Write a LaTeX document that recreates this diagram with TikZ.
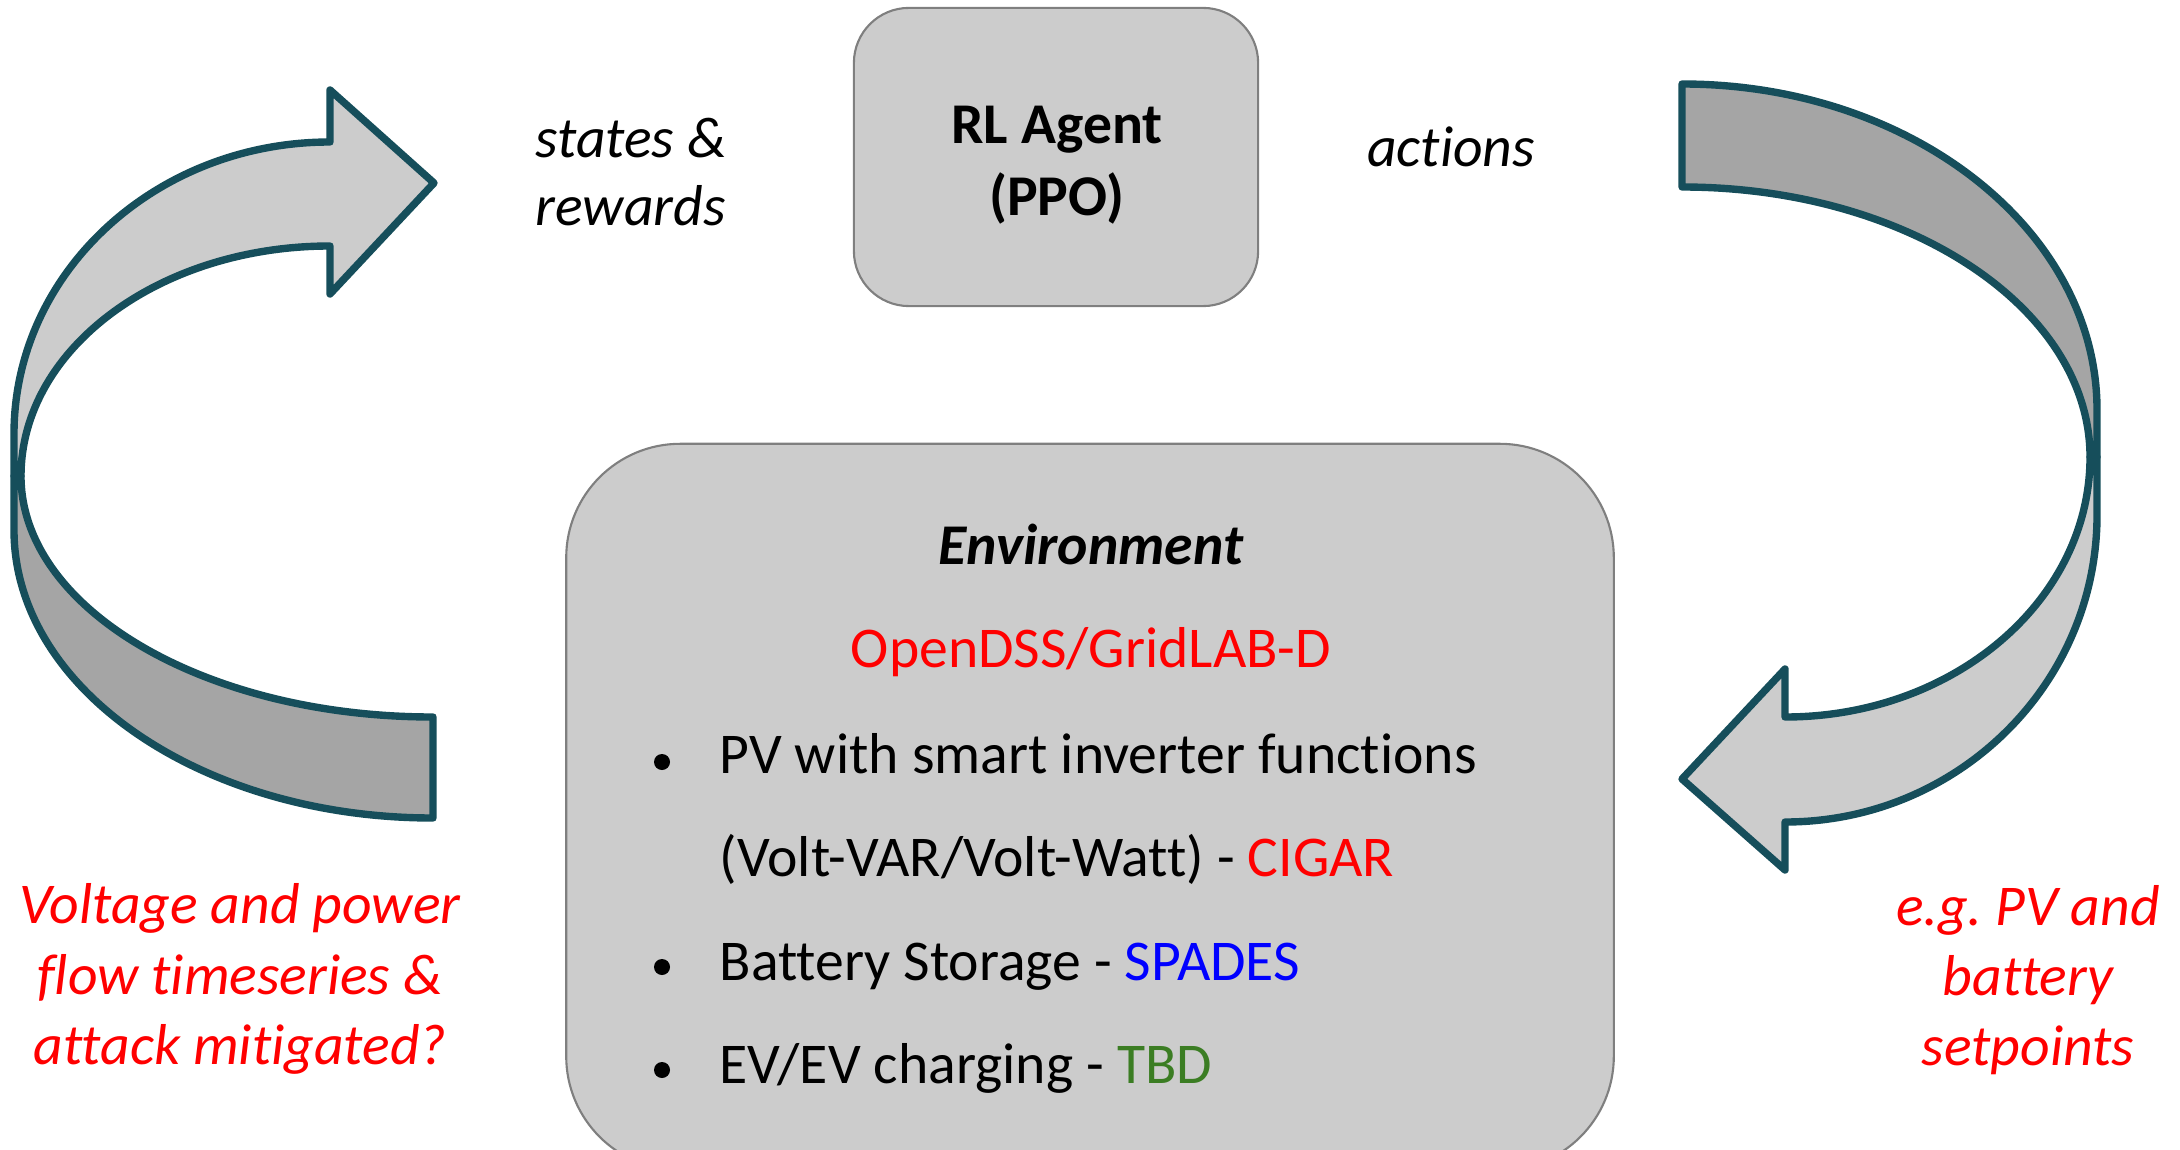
\documentclass[tikz,border=0pt]{standalone}
\usepackage{fontspec}
\setmainfont{Carlito}[Ligatures=NoCommon]
\frenchspacing
\usepackage{tikz}
\definecolor{ink}{HTML}{000000}
\definecolor{rim}{HTML}{164E5B}
\definecolor{front}{HTML}{CCCCCC}
\definecolor{back}{HTML}{A5A5A5}
\definecolor{edge}{HTML}{7F7F7F}
\definecolor{hot}{HTML}{FF0000}
\definecolor{cool}{HTML}{0000FF}
\definecolor{later}{HTML}{3B7D23}
\tikzset{box/.style={draw=edge,fill=front,line width=0.6pt,rounded corners=0.55cm},
  band/.style={draw=rim,line width=2.1pt,line join=round},
  txt/.style={inner sep=0pt,font=\fontsize{16.4}{20}\selectfont},
  note/.style={txt,text=hot,align=center,font=\fontsize{16.4}{20}\selectfont\itshape},
  pt/.style={circle,fill=ink,inner sep=0pt,minimum size=0.16cm}}

\begin{document}
\begin{tikzpicture}[x=0.01cm,y=-0.01cm]
  \useasboundingbox (0,0) rectangle (2180,1149);
  % left loop: observations back to the agent
  \path[band,fill=front] (330,142) arc[start angle=270,end angle=180,x radius=316,y radius=292]
    -- (14,476) -- (21,476) arc[start angle=180,end angle=270,x radius=309,y radius=230]
    -- (330,294) -- (434,183) -- (330,90) -- cycle;
  \path[band,fill=back] (14,476) -- (14,530) arc[start angle=180,end angle=90,x radius=419,y radius=288]
    -- (433,717) arc[start angle=90,end angle=180,x radius=412,y radius=241] -- cycle;
  % right loop: actions into the environment
  \path[band,fill=back] (1682,84) arc[start angle=270,end angle=360,x radius=415,y radius=326]
    -- (2097,457) -- (2090,457) arc[start angle=0,end angle=-90,x radius=408,y radius=270] -- cycle;
  \path[band,fill=front] (2097,457) -- (2097,515) arc[start angle=0,end angle=90,x radius=312,y radius=307]
    -- (1785,870) -- (1682,779) -- (1785,669) -- (1785,717)
    arc[start angle=90,end angle=0,x radius=305,y radius=260] -- cycle;
  % boxes
  \node[box,minimum width=4.04cm,minimum height=2.98cm] (agent) at (1056,157) {};
  \node[txt,align=center,font=\fontsize{16.4}{20.4}\selectfont\bfseries] (agentname) at (1057,165) {RL Agent\\(PPO)};
  \node[box,rounded corners=1.14cm,minimum width=10.47cm,minimum height=7.26cm] (env) at (1090,807) {};
  \node[txt,anchor=west,align=left,font=\fontsize{16.4}{19.4}\selectfont\itshape] (obs) at (535,172) {states \&\\rewards};
  \node[txt,anchor=base,font=\fontsize{16.4}{20}\selectfont\itshape] (act) at (1451,167) {actions};
  \node[txt,anchor=base,font=\fontsize{16.4}{20}\selectfont\bfseries\itshape] (envname) at (1091,564) {Environment};
  \node[txt,anchor=base,text=hot] (sim) at (1091,667) {OpenDSS/GridLAB-D};
  \node[pt] (b1) at (662,762) {};
  \node[txt,anchor=base west] (pv) at (719,773) {PV with smart inverter functions};
  \node[txt,anchor=base west] (volt) at (719,876) {(Volt-VAR/Volt-Watt) - \textcolor{hot}{CIGAR}};
  \node[pt] (b2) at (662,967) {};
  \node[txt,anchor=base west] (batt) at (719,980) {Battery Storage - \textcolor{cool}{SPADES}};
  \node[pt] (b3) at (662,1070) {};
  \node[txt,anchor=base west] (ev) at (719,1083) {EV/EV charging - \textcolor{later}{TBD}};
  \node[note] (left) at (240,979) {Voltage and power\\flow timeseries \&\\attack mitigated?};
  \node[note] (right) at (2028,980) {e.g. PV and\\battery\\setpoints};
\end{tikzpicture}
\end{document}
